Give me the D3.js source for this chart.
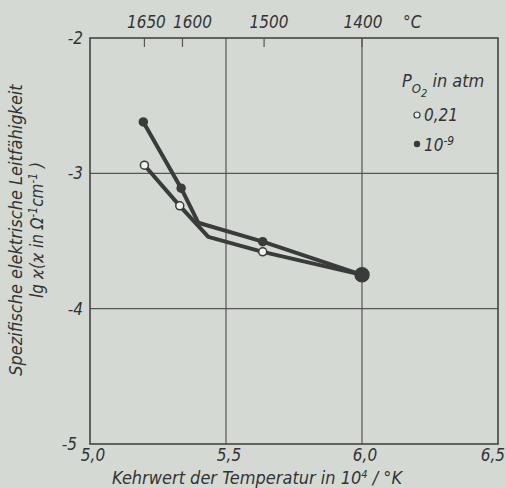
<!DOCTYPE html>
<html lang="de">
<head>
<meta charset="UTF-8">
<title>Leitfähigkeit</title>
<script src="https://d3js.org/d3.v7.min.js"></script>
<style>
  body { margin: 0; background: #d4dad3; overflow: hidden; }
  svg { display: block; }
  text { font-family: "Liberation Sans Narrow", "DejaVu Sans Condensed", "Open Sans", sans-serif; font-style: italic; fill: #333; }
</style>
</head>
<body>
<svg width="506" height="488"></svg>
<script>
// Achsen
const xTicks = [5.0, 5.5, 6.0, 6.5];
const xTickLabels = ['5,0', '5,5', '6,0', '6,5'];
const yTicks = [-2, -3, -4, -5];
const topTicks = [5.20, 5.34, 5.64, 6.0];
const topTickLabels = ['1650', '1600', '1500', '1400'];

// P_O2 = 0,21 atm (offene Kreise)
const airX = [5.20, 5.33, 5.435, 5.635, 6.0];
const airY = [-2.94, -3.24, -3.47, -3.58, -3.75];
const airMarked = [true, true, false, true, false];

// P_O2 = 10^-9 atm (volle Kreise)
const lowX = [5.196, 5.335, 5.398, 5.635, 6.0];
const lowY = [-2.62, -3.11, -3.365, -3.505, -3.75];
const lowMarked = [true, true, false, true, true];

const svg = d3.select('svg');
const pL = 90, pR = 498, pT = 38, pB = 444;
const ink = '#3a3c3b';

const x = d3.scaleLinear().domain([5.0, 6.5]).range([pL, pR]);
const y = d3.scaleLinear().domain([-5, -2]).range([pB, pT]);

// Gitter
svg.append('g').selectAll('line').data(xTicks.slice(1, -1)).join('line')
  .attr('x1', d => x(d)).attr('x2', d => x(d))
  .attr('y1', pT).attr('y2', pB)
  .attr('stroke', '#555').attr('stroke-width', 1.2);
svg.append('g').selectAll('line').data(yTicks.slice(1, -1)).join('line')
  .attr('x1', pL).attr('x2', pR)
  .attr('y1', d => y(d)).attr('y2', d => y(d))
  .attr('stroke', '#555').attr('stroke-width', 1.2);

// Rahmen
svg.append('rect')
  .attr('x', pL).attr('y', pT)
  .attr('width', pR - pL).attr('height', pB - pT)
  .attr('fill', 'none').attr('stroke', '#444').attr('stroke-width', 1.6);

// obere Temperaturskala (Beschriftung im Original etwas nach rechts versetzt)
const topShift = [2, 10, 5, 1];
svg.append('g').selectAll('line').data(topTicks).join('line')
  .attr('x1', d => x(d)).attr('x2', d => x(d))
  .attr('y1', pT).attr('y2', pT + 9)
  .attr('stroke', '#555').attr('stroke-width', 1.2);
svg.append('g').selectAll('text').data(topTicks).join('text')
  .attr('x', (d, i) => x(d) + topShift[i]).attr('y', 28)
  .attr('text-anchor', 'middle')
  .attr('font-size', 17)
  .text((d, i) => topTickLabels[i]);
svg.append('text').attr('x', 403).attr('y', 28).attr('font-size', 17).text('°C');

// Achsenbeschriftung
svg.append('g').selectAll('text').data(xTicks).join('text')
  .attr('x', (d, i) => i === xTicks.length - 1 ? 505 : x(d) + 3).attr('y', 461)
  .attr('text-anchor', (d, i) => i === xTicks.length - 1 ? 'end' : 'middle')
  .attr('font-size', 17)
  .text((d, i) => xTickLabels[i]);
svg.append('g').selectAll('text').data(yTicks).join('text')
  .attr('x', d => d === -5 ? 77 : 83)
  .attr('y', d => y(d) + 6)
  .attr('text-anchor', 'end')
  .attr('font-size', 17)
  .text(d => '-' + Math.abs(d));

const xt = svg.append('text').attr('x', 257).attr('y', 484)
  .attr('text-anchor', 'middle').attr('font-size', 18);
xt.append('tspan').text('Kehrwert der Temperatur in 10');
xt.append('tspan').attr('dy', -6).attr('font-size', 11).text('4');
xt.append('tspan').attr('dy', 6).text(' / °K');

const yt = svg.append('g').attr('transform', 'translate(22,230) rotate(-90)');
yt.append('text').attr('text-anchor', 'middle').attr('font-size', 18)
  .text('Spezifische elektrische Leitfähigkeit');
const yt2 = yt.append('text').attr('y', 21).attr('text-anchor', 'middle').attr('font-size', 17);
yt2.append('tspan').text('lg ϰ(ϰ in Ω');
yt2.append('tspan').attr('dy', -6).attr('font-size', 12).text('-1');
yt2.append('tspan').attr('dy', 6).text('cm');
yt2.append('tspan').attr('dy', -6).attr('font-size', 12).text('-1');
yt2.append('tspan').attr('dy', 6).text(' )');

// Kurven
const line = d3.line().x(d => x(d[0])).y(d => y(d[1]));
const series = [
  { xs: airX, ys: airY, marked: airMarked, open: true },
  { xs: lowX, ys: lowY, marked: lowMarked, open: false }
];
series.forEach(s => {
  const pts = s.xs.map((v, i) => [v, s.ys[i]]);
  svg.append('path').attr('d', line(pts))
    .attr('fill', 'none').attr('stroke', ink)
    .attr('stroke-width', 4).attr('stroke-linejoin', 'round');
});
series.forEach(s => {
  const pts = s.xs.map((v, i) => [v, s.ys[i], s.marked[i]]).filter(p => p[2]);
  svg.append('g').selectAll('circle').data(pts).join('circle')
    .attr('cx', d => x(d[0])).attr('cy', d => y(d[1]))
    .attr('r', (d, i) => (!s.open && i === pts.length - 1) ? 7 : 4)
    .attr('fill', s.open ? '#f2f2ee' : ink)
    .attr('stroke', ink).attr('stroke-width', 1.5);
});

// Legende
const lg = svg.append('text').attr('x', 402).attr('y', 87).attr('font-size', 18);
lg.append('tspan').text('P');
lg.append('tspan').attr('dy', 6).attr('font-size', 13).text('O');
lg.append('tspan').attr('dy', 4).attr('font-size', 11).text('2');
lg.append('tspan').attr('dy', -10).text(' in atm');
svg.append('circle').attr('cx', 417).attr('cy', 115).attr('r', 3)
  .attr('fill', '#f2f2ee').attr('stroke', ink).attr('stroke-width', 1.2);
svg.append('text').attr('x', 424).attr('y', 121).attr('font-size', 17).text('0,21');
svg.append('circle').attr('cx', 417).attr('cy', 144).attr('r', 3.2).attr('fill', ink);
const l2 = svg.append('text').attr('x', 424).attr('y', 151).attr('font-size', 17);
l2.append('tspan').text('10');
l2.append('tspan').attr('dy', -6).attr('font-size', 12).text('-9');
</script>
</body>
</html>
